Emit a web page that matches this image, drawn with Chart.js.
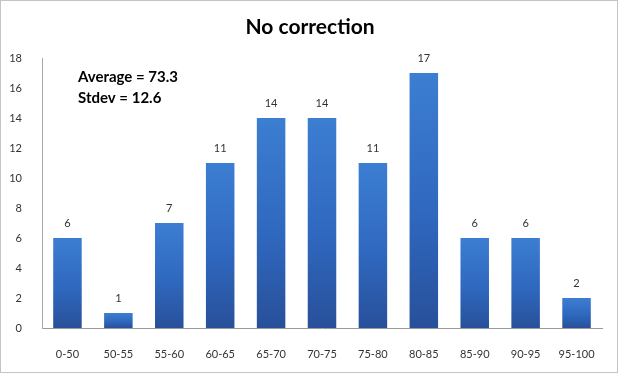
<!DOCTYPE html>
<html>
<head>
<meta charset="utf-8">
<script src="https://cdn.jsdelivr.net/npm/chart.js@4.4.0/dist/chart.umd.min.js"></script>
<style>
  html, body { margin: 0; padding: 0; background: #fff; }
  #wrap { width: 618px; height: 373px; position: relative; }
</style>
</head>
<body>
<div id="wrap"><canvas id="hist"></canvas></div>
<script>
// Data
const bins = ['0-50', '50-55', '55-60', '60-65', '65-70', '70-75', '75-80', '80-85', '85-90', '90-95', '95-100'];
const counts = [6, 1, 7, 11, 14, 14, 11, 17, 6, 6, 2];
const yTicks = [0, 2, 4, 6, 8, 10, 12, 14, 16, 18];
const titleText = 'No correction';
const statsLines = ['Average = 73.3', 'Stdev = 12.6'];

const FONT = 'Lato, "Open Sans", sans-serif';

// Gradient for each bar (light on top, dark at the base)
function barFill(ctx) {
    const chart = ctx.chart;
    const y = chart.scales.y;
    if (!y || ctx.raw === undefined) return '#2f6cc0';
    const top = y.getPixelForValue(ctx.raw);
    const bottom = y.getPixelForValue(0);
    if (!isFinite(top) || !isFinite(bottom) || top === bottom) return '#2f6cc0';
    const g = chart.ctx.createLinearGradient(0, top, 0, bottom);
    g.addColorStop(0, '#3c7ed2');
    g.addColorStop(0.55, '#2f68bf');
    g.addColorStop(1, '#28509a');
    return g;
}

// Title, value labels, stats text and frame
const decorations = {
    id: 'decorations',
    afterDatasetsDraw(chart) {
        const c = chart.ctx;
        const meta = chart.getDatasetMeta(0);
        c.save();
        c.fillStyle = '#333';
        c.font = '11px ' + FONT;
        c.textAlign = 'center';
        c.textBaseline = 'middle';
        meta.data.forEach((bar, i) => {
            c.fillText(String(counts[i]), bar.x, bar.y - 15);
        });

        c.fillStyle = '#000';
        c.font = 'bold 21px ' + FONT;
        c.fillText(titleText, 310, 27);

        c.font = 'bold 15px ' + FONT;
        c.textAlign = 'left';
        statsLines.forEach((t, i) => c.fillText(t, 78, 77 + i * 21));

        c.strokeStyle = '#888';
        c.lineWidth = 1;
        c.setLineDash([1, 1]);
        c.strokeRect(0.5, 0.5, chart.width - 1, chart.height - 1);
        c.restore();
    }
};

new Chart(document.getElementById('hist').getContext('2d'), {
    type: 'bar',
    data: {
        labels: bins,
        datasets: [{
            data: counts,
            backgroundColor: barFill,
            borderWidth: 0,
            categoryPercentage: 1,
            barPercentage: 0.56
        }]
    },
    options: {
        responsive: true,
        maintainAspectRatio: false,
        animation: false,
        layout: { padding: { top: 58, right: 16, left: 0, bottom: 0 } },
        plugins: {
            legend: { display: false },
            tooltip: { enabled: false },
            title: { display: false }
        },
        scales: {
            x: {
                grid: { display: false },
                border: { display: true, color: '#999', dash: [2, 2] },
                ticks: { color: '#333', font: { size: 11, family: FONT }, padding: 12, maxRotation: 0 },
                afterFit(scale) { scale.height = 45; }
            },
            y: {
                min: 0,
                max: 18,
                grid: { display: false },
                border: { display: true, color: '#aaa', dash: [1, 1] },
                afterBuildTicks(scale) { scale.ticks = yTicks.map(v => ({ value: v })); },
                ticks: { color: '#333', font: { size: 11, family: FONT }, padding: 12 },
                afterFit(scale) { scale.width = 42; }
            }
        }
    },
    plugins: [decorations]
});
</script>
</body>
</html>
